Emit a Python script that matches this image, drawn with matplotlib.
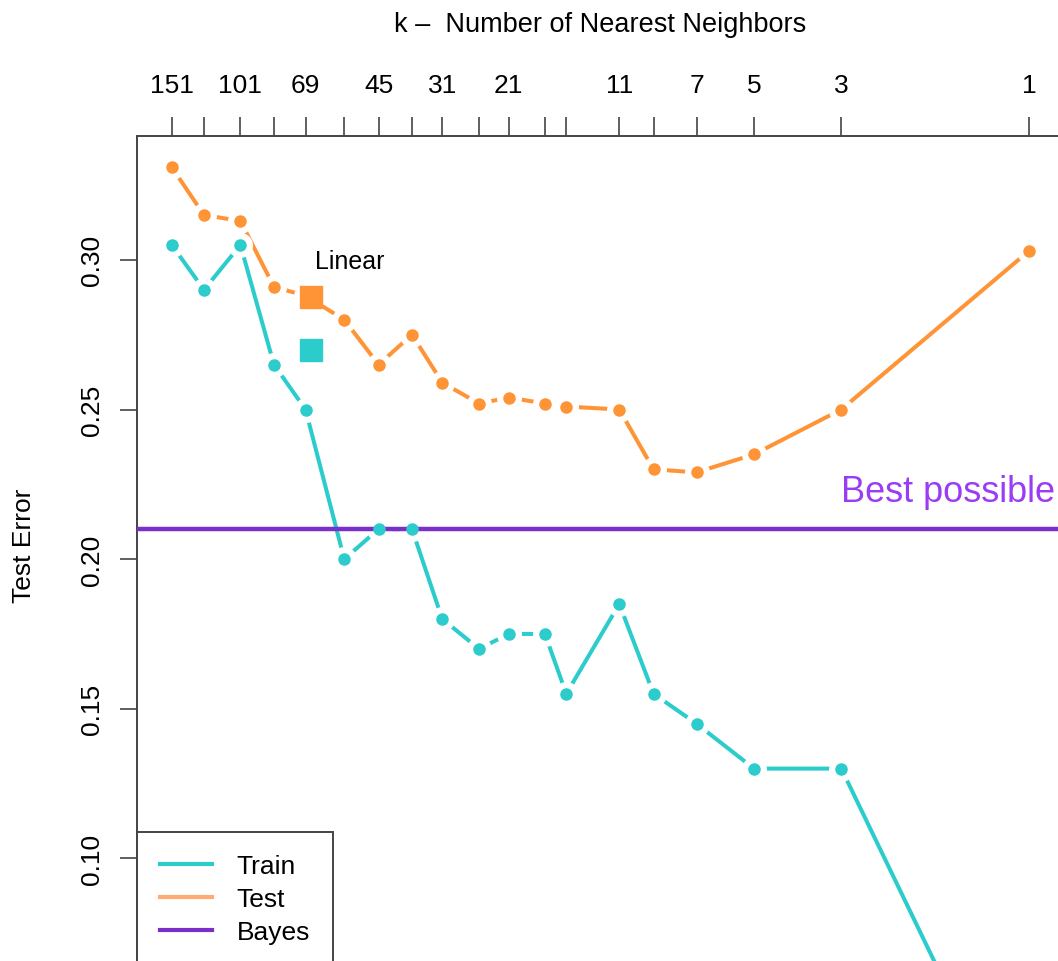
import numpy as np
import matplotlib
matplotlib.use("Agg")
import matplotlib.pyplot as plt
from matplotlib.lines import Line2D
from matplotlib.ticker import NullLocator

N_OBS = 200

k_values = [151, 125, 101, 83, 69, 55, 45, 37, 31, 25, 21, 17, 15, 11, 9, 7, 5, 3, 1]
k_labelled = [151, 101, 69, 45, 31, 21, 11, 7, 5, 3, 1]

train_err = [0.305, 0.290, 0.305, 0.265, 0.250, 0.200, 0.210, 0.210, 0.180, 0.170,
             0.175, 0.175, 0.155, 0.185, 0.155, 0.145, 0.130, 0.130, 0.000]
test_err = [0.331, 0.315, 0.313, 0.291, 0.288, 0.280, 0.265, 0.275, 0.259, 0.252,
            0.254, 0.252, 0.251, 0.250, 0.230, 0.229, 0.235, 0.250, 0.303]

linear_dof = 3
linear_train = 0.270
linear_test = 0.2875
bayes_err = 0.210

CYAN = "#2ccccc"
ORANGE = "#ff9436"
PURPLE = "#7b2fc9"
TEXT_PURPLE = "#9a3cf5"
FRAME = "#444444"
FS = 19

plt.rcParams["font.family"] = ["Liberation Sans", "DejaVu Sans"]

W, H = 1058, 962
fig = plt.figure(figsize=(W / 100, H / 100), dpi=100)

# axes frame in pixels: left 137, right 1063, top 137, bottom off the canvas
left_px, right_px, top_px, bot_px = 137.3, 1063.4, 136.7, 1000.0
ax = fig.add_axes([left_px / W, 1 - bot_px / H,
                   (right_px - left_px) / W, (bot_px - top_px) / H])

dof = N_OBS / np.array(k_values, dtype=float)


def knn_curve(ax, y, color, z):
    # R type="b": line broken around each point
    ax.plot(dof, y, color=color, lw=2.9, solid_capstyle="butt", zorder=z)
    ax.plot(dof, y, ls="none", marker="o", ms=18, mfc="white", mec="none", zorder=z + 0.1)
    ax.plot(dof, y, ls="none", marker="o", ms=9, mfc=color, mec="none", zorder=z + 2)


knn_curve(ax, test_err, ORANGE, 2)
knn_curve(ax, train_err, CYAN, 2.3)
ax.axhline(bayes_err, color=PURPLE, lw=3.2, zorder=3)

ax.plot([linear_dof], [linear_test], marker="s", ms=16.5, color=ORANGE, ls="none", zorder=6)
ax.plot([linear_dof], [linear_train], marker="s", ms=16.5, color=CYAN, ls="none", zorder=6)
ax.text(linear_dof * 1.25, 0.2995, "Linear", fontsize=FS - 1, ha="center", va="center", zorder=6)

ax.set_xscale("log")
lo = np.log10(N_OBS / 151) - 0.0874
hi = np.log10(N_OBS) + 0.0874
ax.set_xlim(10 ** lo, 10 ** hi)
ax.set_ylim(0.0530, 0.3415)

ax.xaxis.tick_top()
ax.xaxis.set_minor_locator(NullLocator())
ax.set_xticks(dof)
ax.set_xticklabels([str(k) if k in k_labelled else "" for k in k_values])
ax.set_yticks([0.10, 0.15, 0.20, 0.25, 0.30])
ax.set_yticklabels(["0.10", "0.15", "0.20", "0.25", "0.30"])
ax.tick_params(axis="x", direction="out", length=14, width=1.2, colors=FRAME,
               labelcolor="black", labelsize=FS, pad=14)
ax.tick_params(axis="y", direction="out", length=12, width=1.2, colors=FRAME,
               labelcolor="black", labelsize=FS, pad=12, labelrotation=90)
for lab in ax.get_yticklabels():
    lab.set_va("center")
for sp in ax.spines.values():
    sp.set_color(FRAME)
    sp.set_linewidth(1.4)

fig.text(0.5 * (left_px + right_px) / W, 1 - 25 / H, "k \u2013  Number of Nearest Neighbors",
         fontsize=FS + 0.5, ha="center", va="center")
fig.text(24 / W, 1 - 546 / H, "Test Error", fontsize=FS, rotation=90,
         ha="center", va="center")

ax.text((1055 - left_px) / (right_px - left_px), bayes_err + 0.0095, "Best possible",
        transform=ax.get_yaxis_transform(), fontsize=26, color=TEXT_PURPLE,
        ha="right", va="baseline", zorder=7, clip_on=False)

handles = [Line2D([], [], color=CYAN, lw=3),
           Line2D([], [], color="#ffab72", lw=3),
           Line2D([], [], color=PURPLE, lw=3)]
leg = ax.legend(handles, ["Train", "Test", "Bayes"], loc="upper left",
                bbox_to_anchor=(0, (bot_px - 832.7) / (bot_px - top_px)),
                borderaxespad=0, fontsize=FS, frameon=True, fancybox=False,
                framealpha=1, edgecolor=FRAME, borderpad=0.85, handlelength=1.97,
                handletextpad=0.95, labelspacing=0.34)
leg.get_frame().set_linewidth(1.4)
leg.set_zorder(8)

fig.savefig("out.png", dpi=100, facecolor="white")
